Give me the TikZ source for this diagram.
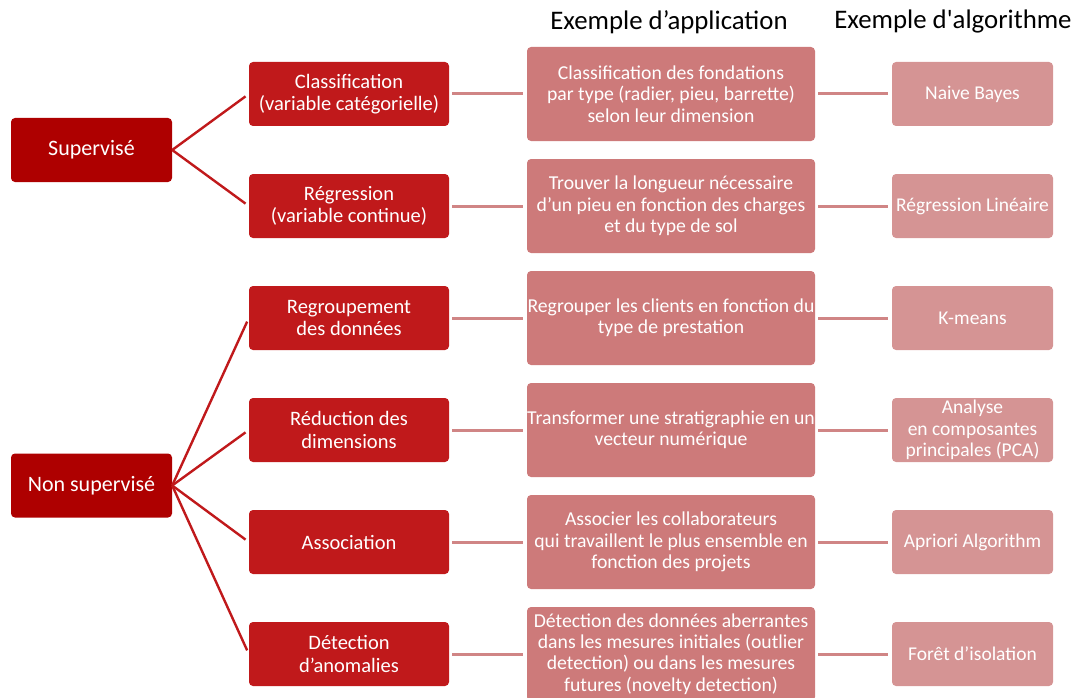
\documentclass[tikz,border=0pt]{standalone}
\usepackage{fontspec}
\setmainfont{Carlito}
\definecolor{rootc}{HTML}{AE0000}
\definecolor{midc}{HTML}{C0191B}
\definecolor{appc}{HTML}{CD7A7A}
\definecolor{algc}{HTML}{D59494}
\definecolor{linkc}{HTML}{D08585}
\begin{document}
\begin{tikzpicture}[x=1pt,y=-1pt,
  box/.style={rounded corners=4pt, align=center, text=white, inner sep=0pt},
  rootbox/.style={box, fill=rootc, minimum width=161pt, minimum height=64pt,
    font=\fontsize{22}{24}\selectfont},
  midbox/.style={box, fill=midc, minimum width=200pt, minimum height=64pt,
    font=\fontsize{20.5}{22.5}\selectfont},
  appbox/.style={box, fill=appc, minimum width=288pt, minimum height=94pt,
    font=\fontsize{19.7}{21.3}\selectfont},
  algbox/.style={box, fill=algc, minimum width=161pt, minimum height=64pt,
    font=\fontsize{19.5}{21.5}\selectfont},
  rootlink/.style={draw=midc, line width=2.4pt, shorten >=4pt},
  hlink/.style={draw=linkc, line width=3pt, shorten <=3pt, shorten >=4pt},
  head/.style={font=\fontsize{26.8}{30}\selectfont, inner sep=0pt}]
\useasboundingbox (0,0) rectangle (1078,698);

\node[head] (h1) at (669,22) {Exemple d’application};
\node[head] (h2) at (953,22) {Exemple d\textquotesingle algorithme};

\node[rootbox] (sup) at (91.5,150) {Supervisé};
\node[rootbox] (nsup) at (91.5,485.5) {Non supervisé};

\node[midbox] (m1) at (349,94) {Classification\\(variable catégorielle)};
\node[midbox] (m2) at (349,206) {Régression\\(variable continue)};
\node[midbox] (m3) at (349,318) {Regroupement\\des données};
\node[midbox] (m4) at (349,430) {Réduction des\\dimensions};
\node[midbox] (m5) at (349,542) {Association};
\node[midbox] (m6) at (349,654) {Détection\\d’anomalies};

\node[appbox] (a1) at (671,94) {Classification des fondations\\par type (radier, pieu, barrette)\\selon leur dimension};
\node[appbox] (a2) at (671,206) {Trouver la longueur nécessaire\\d’un pieu en fonction des charges\\et du type de sol};
\node[appbox] (a3) at (671,318) {Regrouper les clients en fonction du\\type de prestation};
\node[appbox] (a4) at (671,430) {Transformer une stratigraphie en un\\vecteur numérique};
\node[appbox] (a5) at (671,542) {Associer les collaborateurs\\qui travaillent le plus ensemble en\\fonction des projets};
\node[appbox] (a6) at (671,654) {Détection des données aberrantes\\dans les mesures initiales (outlier\\detection) ou dans les mesures\\futures (novelty detection)};

\node[algbox] (g1) at (972.5,94) {Naive Bayes};
\node[algbox] (g2) at (972.5,206) {Régression Linéaire};
\node[algbox] (g3) at (972.5,318) {K-means};
\node[algbox] (g4) at (972.5,430) {Analyse\\en composantes\\principales (PCA)};
\node[algbox] (g5) at (972.5,542) {Apriori Algorithm};
\node[algbox] (g6) at (972.5,654) {Forêt d’isolation};

\foreach \m in {m1,m2} \draw[rootlink] (sup.east) -- (\m.west);
\foreach \m in {m3,m4,m5,m6} \draw[rootlink] (nsup.east) -- (\m.west);
\foreach \i in {1,...,6} {
  \draw[hlink] (m\i.east) -- (a\i.west);
  \draw[hlink] (a\i.east) -- (g\i.west);
}
\end{tikzpicture}
\end{document}
